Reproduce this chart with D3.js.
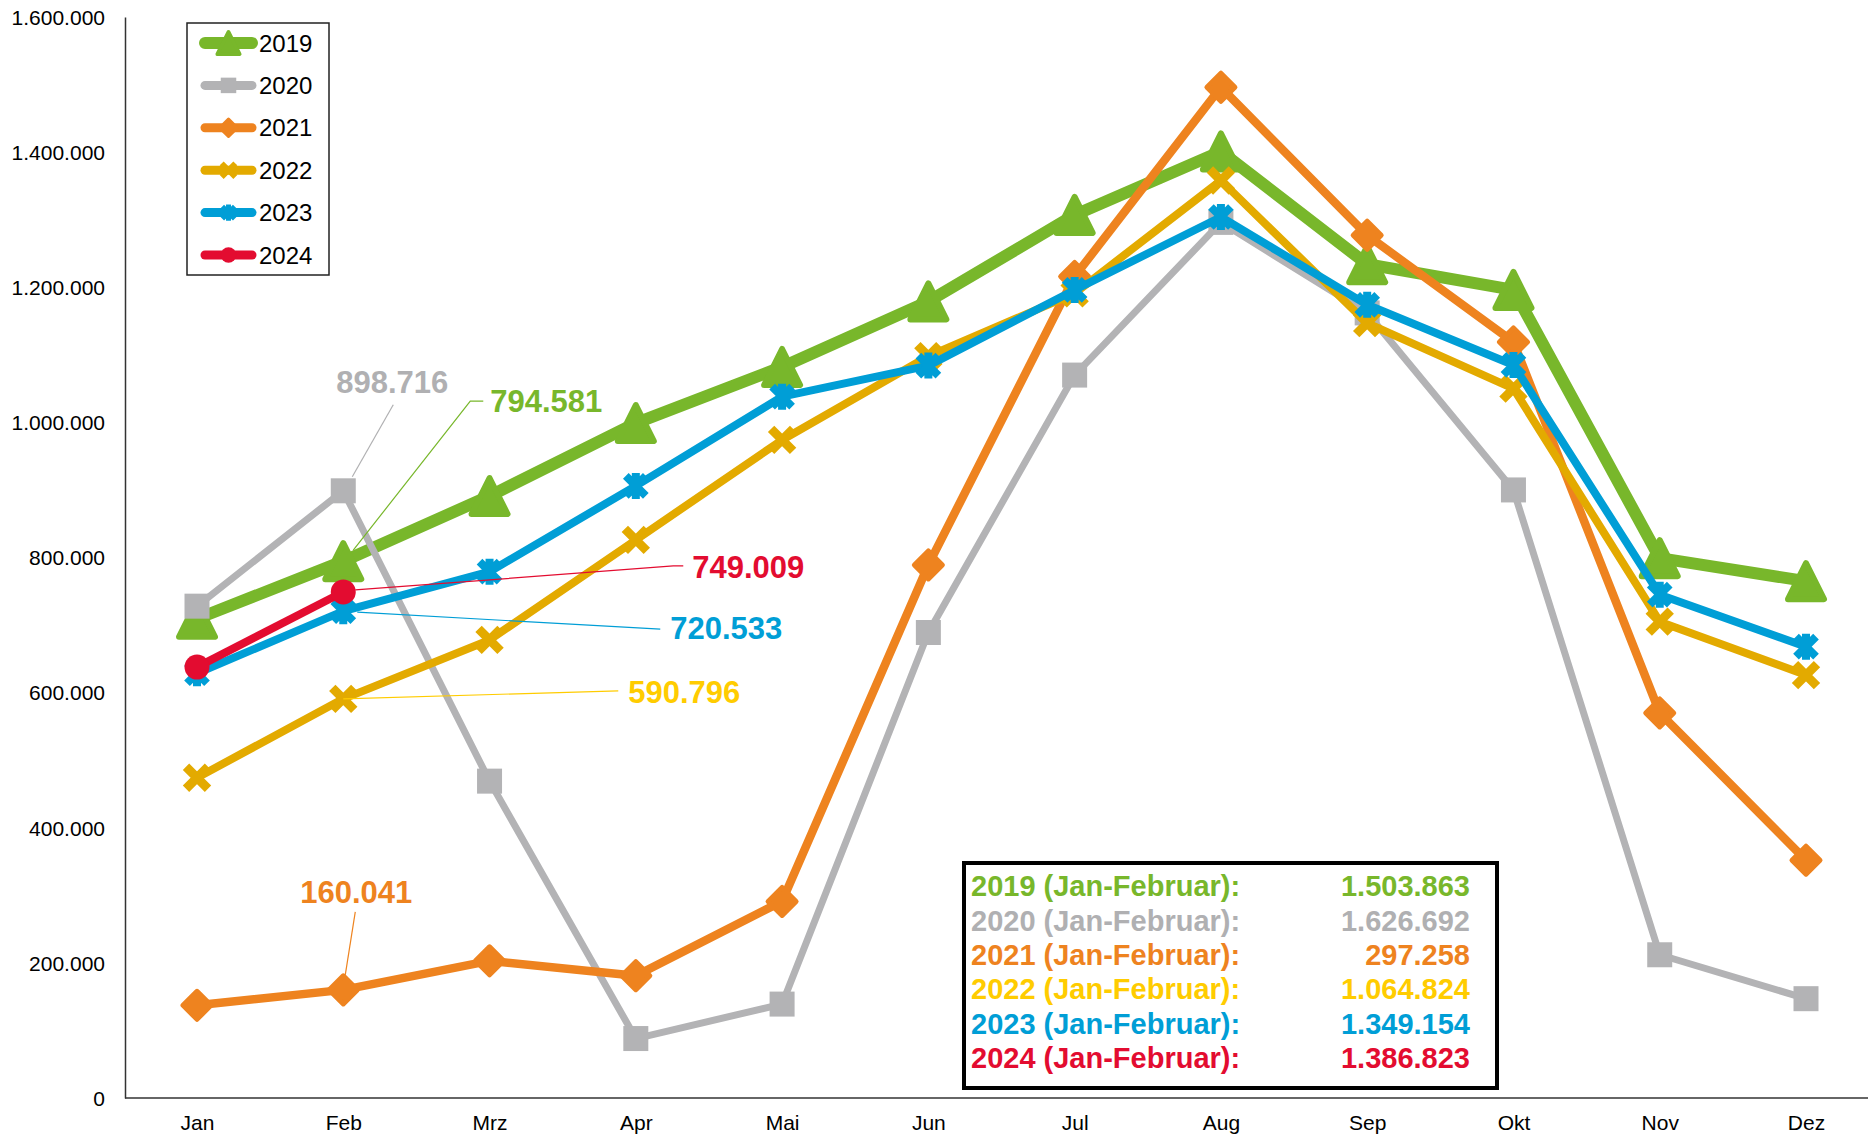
<!DOCTYPE html>
<html lang="de">
<head>
<meta charset="UTF-8">
<script src="https://d3js.org/d3.v7.min.js"></script>
<title>Monatswerte 2019-2024</title>
<style>
	body { margin: 0; background: #fff; }
	text { font-family: "Liberation Sans", Arial, sans-serif; }
	.axis-label { font-size: 21px; fill: #000; }
	.legend-label { font-size: 24px; fill: #000; }
	.anno { font-size: 31px; font-weight: bold; }
	.sum { font-size: 29px; font-weight: bold; }
</style>
</head>
<body>
<script>
// data
const months = ["Jan", "Feb", "Mrz", "Apr", "Mai", "Jun", "Jul", "Aug", "Sep", "Okt", "Nov", "Dez"];
const years = ["2019", "2020", "2021", "2022", "2023", "2024"];
const v2019 = [709282, 794581, 891000, 999000, 1082000, 1179000, 1307000, 1401000, 1234000, 1196000, 799000, 765000];
const v2020 = [727976, 898716, 469000, 88000, 139000, 689000, 1070000, 1296000, 1162000, 900000, 212000, 147000];
const v2021 = [137217, 160041, 203000, 181000, 291000, 789000, 1216000, 1496000, 1277000, 1119000, 570000, 352000];
const v2022 = [474028, 590796, 678000, 826000, 974000, 1098000, 1191000, 1358000, 1147000, 1050000, 705000, 626000];
const v2023 = [628621, 720533, 779000, 906000, 1038000, 1084000, 1196000, 1304000, 1174000, 1085000, 745000, 668000];
const v2024 = [637814, 749009];
const yTicks = [0, 200000, 400000, 600000, 800000, 1000000, 1200000, 1400000, 1600000];
const sumLabel = " (Jan-Februar):";

const lineColors = ["#78B72B", "#B3B3B5", "#EE831F", "#E3AA00", "#009ED6", "#E30C30"];
const textColors = ["#78B72B", "#B0B0B2", "#EE831F", "#FFCC00", "#009ED6", "#E30C30"];
const lineWidths = [12, 7, 8.5, 8, 8, 8];
const shapes = ["triangle", "square", "diamond", "cross", "star", "circle"];

// where the Feb value labels sit, relative to the Feb marker
const annoLayout = [
	{ dx: 147, dy: -160, anchor: "start", leader: [[10, -11], [127, -160], [140, -160]] },
	{ dx: 49, dy: -109, anchor: "middle", leader: [[9, -14], [50, -86]] },
	{ dx: 13, dy: -98, anchor: "middle", leader: [[2, -15], [12, -78]] },
	{ dx: 285, dy: -7, anchor: "start", leader: [[0, 0], [275, -8]] },
	{ dx: 327, dy: 17, anchor: "start", leader: [[14, 1], [317, 18]] },
	{ dx: 349, dy: -25, anchor: "start", leader: [[12, -2], [330, -26], [340, -26]] }
];

const series = years.map((yr, i) => ({
	year: yr,
	values: [v2019, v2020, v2021, v2022, v2023, v2024][i],
	i: i
}));

const W = 1868, H = 1139;
const svg = d3.select("body").append("svg")
	.attr("width", W).attr("height", H)
	.style("display", "block");
svg.append("rect").attr("width", W).attr("height", H).attr("fill", "#fff");

const x = d3.scalePoint().domain(months).range([197, 1806]);
const y = d3.scaleLinear().domain([0, 1600000]).range([1098, 17]);
const de = d3.formatLocale({ decimal: ",", thousands: ".", grouping: [3], currency: ["", " €"] });
const fmt = de.format(",d");

// axes
const gy = svg.append("g").attr("transform", "translate(125,0)")
	.call(d3.axisLeft(y).tickValues(yTicks).tickFormat(fmt).tickSize(0).tickPadding(20));
gy.select(".domain").attr("stroke", "#333").attr("stroke-width", 1.5);
gy.selectAll("text").attr("class", "axis-label").attr("font-size", null).attr("font-family", null).attr("dy", "0.35em");

const gx = svg.append("g").attr("transform", "translate(0,1098)")
	.call(d3.axisBottom(x).tickSize(0).tickPadding(17));
gx.select(".domain").attr("d", "M125,0H" + W).attr("stroke", "#333").attr("stroke-width", 1.5);
gx.selectAll("text").attr("class", "axis-label").attr("font-size", null).attr("font-family", null);

// markers
function drawMarker(g, shape, color, s) {
	// s = scale factor (1 for chart, smaller for legend)
	if (shape === "triangle") {
		g.append("path").attr("d", `M0,${-18 * s}L${18 * s},${18 * s}L${-18 * s},${18 * s}Z`)
			.attr("fill", color).attr("stroke", color).attr("stroke-width", 6 * s).attr("stroke-linejoin", "round");
	} else if (shape === "square") {
		g.append("rect").attr("x", -12.5 * s).attr("y", -12.5 * s).attr("width", 25 * s).attr("height", 25 * s).attr("fill", color);
	} else if (shape === "diamond") {
		g.append("path").attr("d", `M0,${-14 * s}L${14 * s},0L0,${14 * s}L${-14 * s},0Z`)
			.attr("fill", color).attr("stroke", color).attr("stroke-width", 5 * s).attr("stroke-linejoin", "round");
	} else if (shape === "cross") {
		g.append("path").attr("d", `M${-11 * s},${-11 * s}L${11 * s},${11 * s}M${11 * s},${-11 * s}L${-11 * s},${11 * s}`)
			.attr("stroke", color).attr("stroke-width", 9 * s).attr("fill", "none");
	} else if (shape === "star") {
		g.append("path").attr("d", `M${-10 * s},${-10 * s}L${10 * s},${10 * s}M${10 * s},${-10 * s}L${-10 * s},${10 * s}M0,${-13 * s}L0,${13 * s}`)
			.attr("stroke", color).attr("stroke-width", 8 * s).attr("fill", "none");
	} else {
		g.append("circle").attr("r", 12.5 * s).attr("fill", color);
	}
}

const line = d3.line()
	.x((d, k) => x(months[k]))
	.y(d => y(d));

series.forEach(s => {
	const g = svg.append("g").attr("class", "series");
	g.append("path")
		.datum(s.values)
		.attr("d", line)
		.attr("fill", "none")
		.attr("stroke", lineColors[s.i])
		.attr("stroke-width", lineWidths[s.i])
		.attr("stroke-linejoin", "round");
	s.values.forEach((v, k) => {
		const m = g.append("g").attr("transform", `translate(${x(months[k])},${y(v)})`);
		drawMarker(m, shapes[s.i], lineColors[s.i], 1);
	});
});

// Feb value labels with leader lines
series.forEach(s => {
	const L = annoLayout[s.i];
	const px = x("Feb"), py = y(s.values[1]);
	svg.append("path")
		.attr("d", "M" + L.leader.map(p => (px + p[0]) + "," + (py + p[1])).join("L"))
		.attr("fill", "none")
		.attr("stroke", textColors[s.i])
		.attr("stroke-width", 1.2);
	svg.append("text")
		.attr("class", "anno")
		.attr("x", px + L.dx)
		.attr("y", py + L.dy)
		.attr("dy", "0.36em")
		.attr("text-anchor", L.anchor)
		.attr("fill", textColors[s.i])
		.text(fmt(s.values[1]));
});

// legend
const lg = svg.append("g").attr("transform", "translate(187,23)");
lg.append("rect").attr("width", 142).attr("height", 252)
	.attr("fill", "#fff").attr("stroke", "#222").attr("stroke-width", 1.5);
series.forEach(s => {
	const row = lg.append("g").attr("transform", `translate(0,${20 + s.i * 42.4})`);
	row.append("line").attr("x1", 18).attr("x2", 65)
		.attr("stroke", lineColors[s.i]).attr("stroke-width", s.i === 0 ? 12 : 9)
		.attr("stroke-linecap", "round");
	drawMarker(row.append("g").attr("transform", "translate(41.5,0)"), shapes[s.i], lineColors[s.i], 0.62);
	row.append("text").attr("class", "legend-label").attr("x", 72).attr("dy", "0.36em").text(s.year);
});

// Jan-Februar totals
const bx = svg.append("g").attr("transform", "translate(964,863)");
bx.append("rect").attr("width", 533).attr("height", 225)
	.attr("fill", "#fff").attr("stroke", "#000").attr("stroke-width", 4);
series.forEach(s => {
	const yy = 23 + s.i * 34.3;
	bx.append("text").attr("class", "sum").attr("x", 7).attr("y", yy).attr("dy", "0.36em")
		.attr("fill", textColors[s.i]).text(s.year + sumLabel);
	bx.append("text").attr("class", "sum").attr("x", 506).attr("y", yy).attr("dy", "0.36em")
		.attr("text-anchor", "end")
		.attr("fill", textColors[s.i]).text(fmt(d3.sum(s.values.slice(0, 2))));
});
</script>
</body>
</html>
